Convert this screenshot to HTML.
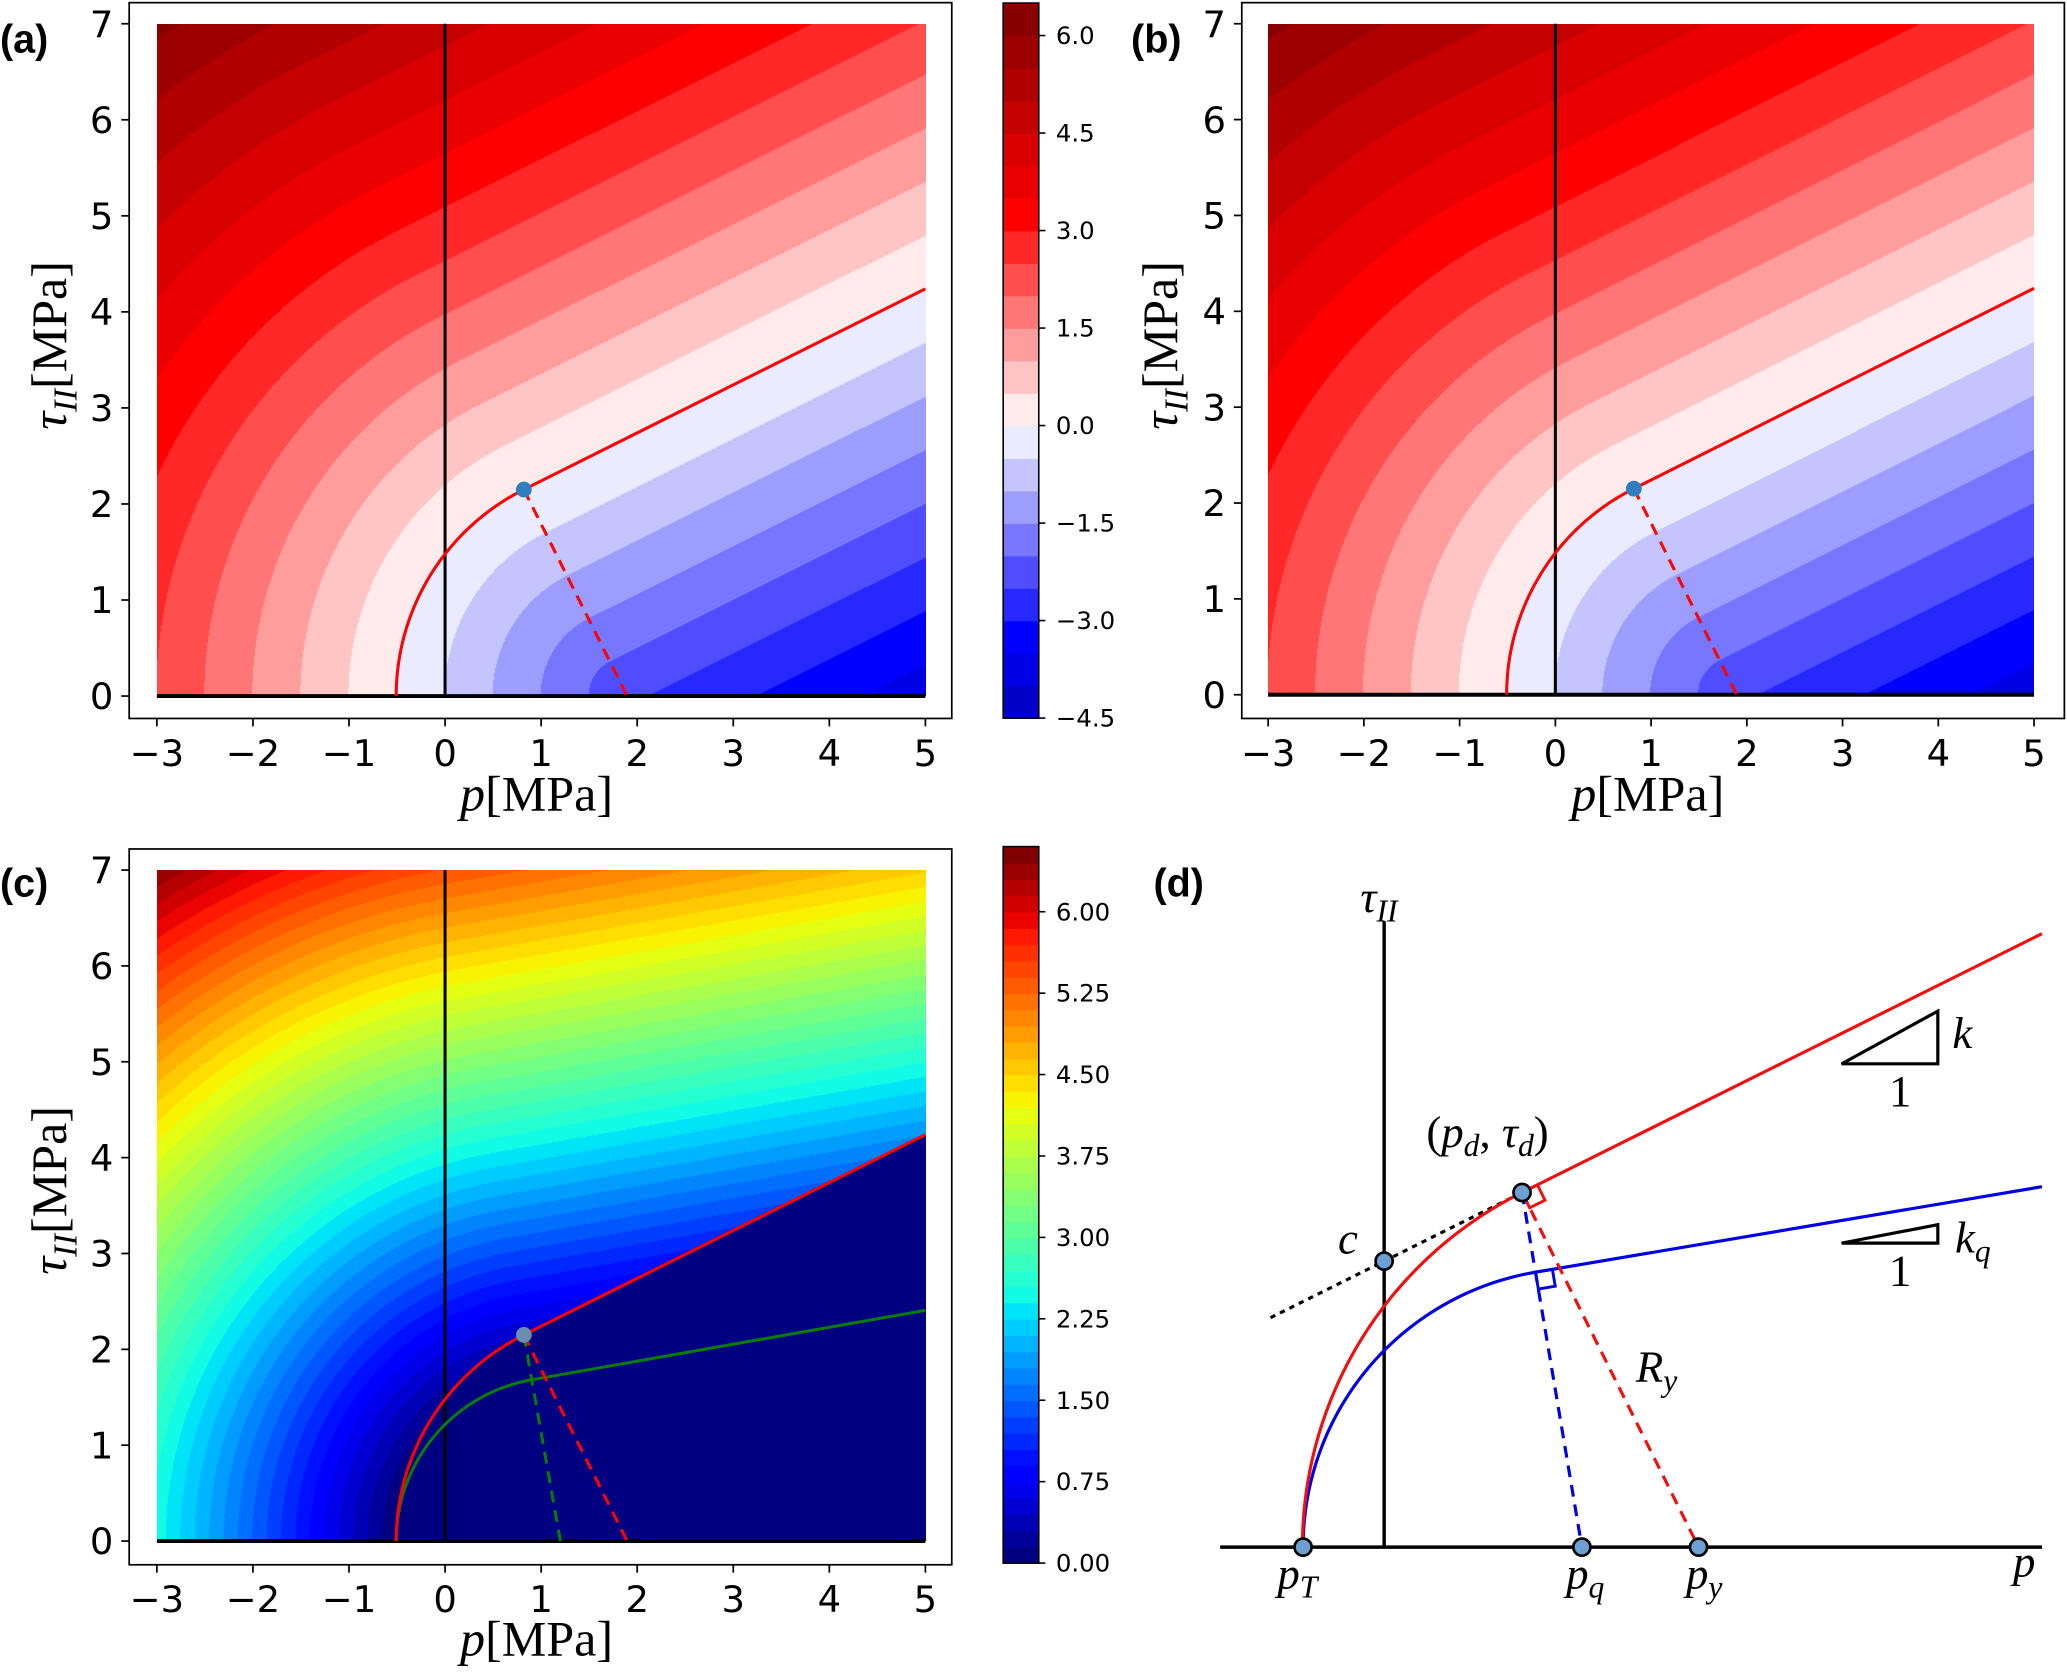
<!DOCTYPE html>
<html>
<head>
<meta charset="utf-8">
<style>
html,body{margin:0;padding:0;background:#fff;}
body{width:2067px;height:1675px;position:relative;overflow:hidden;}
canvas{position:absolute;display:block;}
#fig{position:absolute;left:0;top:0;}
.tk{font-family:"DejaVu Sans","Liberation Sans",sans-serif;}
.mt{font-family:"Liberation Serif","DejaVu Serif",serif;}
.pl{font-family:"Liberation Sans",sans-serif;font-weight:bold;}
</style>
</head>
<body>
<canvas id="fa"></canvas>
<canvas id="fb"></canvas>
<canvas id="fc"></canvas>
<svg id="fig" width="2067" height="1675" viewBox="0 0 1568 1270.6" xmlns="http://www.w3.org/2000/svg">
  <text class="pl" x="0" y="40" font-size="30">(a)</text>
  <text class="pl" x="858" y="40" font-size="30">(b)</text>
  <text class="pl" x="0" y="680" font-size="30">(c)</text>
  <text class="pl" x="875" y="680" font-size="30">(d)</text>

  <text class="mt" transform="translate(50,262) rotate(-90)" text-anchor="middle" font-size="38"><tspan font-style="italic">τ</tspan><tspan font-style="italic" font-size="26" dy="8">II</tspan><tspan dy="-8">[MPa]</tspan></text>
  <text class="mt" transform="translate(893,262) rotate(-90)" text-anchor="middle" font-size="38"><tspan font-style="italic">τ</tspan><tspan font-style="italic" font-size="26" dy="8">II</tspan><tspan dy="-8">[MPa]</tspan></text>
  <text class="mt" transform="translate(50,903) rotate(-90)" text-anchor="middle" font-size="38"><tspan font-style="italic">τ</tspan><tspan font-style="italic" font-size="26" dy="8">II</tspan><tspan dy="-8">[MPa]</tspan></text>
  <text class="mt" x="407" y="615" text-anchor="middle" font-size="38"><tspan font-style="italic">p</tspan>[MPa]</text>
  <text class="mt" x="1250" y="615" text-anchor="middle" font-size="38"><tspan font-style="italic">p</tspan>[MPa]</text>
  <text class="mt" x="407" y="1256" text-anchor="middle" font-size="38"><tspan font-style="italic">p</tspan>[MPa]</text>

  <g id="ga"></g>
  <g id="gb"></g>
  <g id="gc"></g>
  <g id="cba"></g>
  <g id="cbc"></g>
  <g id="gd"></g>

  <g class="mt" font-size="34" font-style="italic">
    <text x="1032" y="692">τ<tspan font-size="24" dy="7">II</tspan></text>
    <text x="1082" y="870"><tspan font-style="normal">(</tspan>p<tspan font-size="24" dy="7">d</tspan><tspan dy="-7" font-style="normal">,  </tspan>τ<tspan font-size="24" dy="7">d</tspan><tspan dy="-7" font-style="normal">)</tspan></text>
    <text x="1015" y="951">c</text>
    <text x="1481" y="795">k</text>
    <text x="1433" y="839" font-style="normal">1</text>
    <text x="1483" y="950">k<tspan font-size="24" dy="7">q</tspan></text>
    <text x="1433" y="975" font-style="normal">1</text>
    <text x="1241" y="1048">R<tspan font-size="24" dy="7">y</tspan></text>
    <text x="969" y="1205">p<tspan font-size="24" dy="7">T</tspan></text>
    <text x="1188" y="1205">p<tspan font-size="24" dy="7">q</tspan></text>
    <text x="1279" y="1205">p<tspan font-size="24" dy="7">y</tspan></text>
    <text x="1527" y="1196">p</text>
  </g>
</svg>
<script>
// ---------- data ----------
const yieldPoint = [0.82, 2.15];      // (p_d, tau_d)
const yieldSlope = [0.5];             // k
const potentialFoot = [1.2];          // p_q
const xTicks = [-3, -2, -1, 0, 1, 2, 3, 4, 5];
const xTickLabels = ["−3", "−2", "−1", "0", "1", "2", "3", "4", "5"];
const yTicks = [0, 1, 2, 3, 4, 5, 6, 7];
const yTickLabels = ["0", "1", "2", "3", "4", "5", "6", "7"];
const cbTicksA = [-4.5, -3.0, -1.5, 0.0, 1.5, 3.0, 4.5, 6.0];
const cbLabelsA = ["−4.5", "−3.0", "−1.5", "0.0", "1.5", "3.0", "4.5", "6.0"];
const levelRangeA = [-4.5, 6.5];
const levelStepA = [0.5];
const cbTicksC = [0, 0.75, 1.5, 2.25, 3.0, 3.75, 4.5, 5.25, 6.0];
const cbLabelsC = ["0.00", "0.75", "1.50", "2.25", "3.00", "3.75", "4.50", "5.25", "6.00"];
const levelRangeC = [0, 6.6];
const levelStepC = [0.15];

// ---------- layout ----------
const S = 2067 / 1568;
const NS = "http://www.w3.org/2000/svg";
const PA = {x0: 119, x1: 702, yb: 528, yt: 18, frame: [98, 2, 722, 545]};
const PB = {x0: 962, x1: 1543, yb: 527, yt: 18, frame: [942, 2, 1566, 545]};
const PC = {x0: 119, x1: 702, yb: 1169, yt: 660, frame: [98, 644, 722, 1187]};
const CBA = {x0: 761, x1: 788, top: 2.3, bot: 544.7};
const CBC = {x0: 761, x1: 788, top: 642.2, bot: 1185.7};

function sx(P, p) { return P.x0 + (p + 3) / 8 * (P.x1 - P.x0); }
function sy(P, t) { return P.yb - t / 7 * (P.yb - P.yt); }
function mk(tag, attrs, parent) {
  const e = document.createElementNS(NS, tag);
  for (const k in attrs) e.setAttribute(k, attrs[k]);
  if (parent) parent.appendChild(e);
  return e;
}

// ---------- geometry ----------
const pd = yieldPoint[0], td = yieldPoint[1], k = yieldSlope[0];
const pc = pd + k * td;
const R = Math.hypot(pc - pd, td);
const pT = pc - R;
const pcq = potentialFoot[0];
const Rq = pcq - pT;
const kq = (pcq - pd) / td;
const nq = Math.sqrt(1 + kq * kq);
const tdq = Rq / nq;
const pdq = pcq - Rq * kq / nq;

function sdist(p, t, c, r, a, b, kk) {
  const dx = p - c, dc = Math.hypot(dx, t);
  const ang = Math.atan2(t, dx), angd = Math.atan2(b, a - c);
  const ln = (t - (b + kk * (p - a))) / Math.sqrt(1 + kk * kk);
  if (ang >= angd) {
    const ar = dc - r;
    if (ar >= 0) return ar;
    return Math.max(ar, ln);
  }
  return ln;
}

// ---------- colormaps ----------
function interp(stops, x) {
  x = Math.max(0, Math.min(1, x));
  for (let i = 1; i < stops.length; i++) {
    if (x <= stops[i][0]) {
      const a = stops[i - 1], b = stops[i];
      const f = (x - a[0]) / (b[0] - a[0] || 1);
      return a[1] + f * (b[1] - a[1]);
    }
  }
  return stops[stops.length - 1][1];
}
const seisStops = [[0, [0, 0, 0.3]], [0.25, [0, 0, 1]], [0.5, [1, 1, 1]], [0.75, [1, 0, 0]], [1, [0.5, 0, 0]]];
function seismic(x) {
  const out = [];
  for (let c = 0; c < 3; c++) out.push(interp(seisStops.map(s => [s[0], s[1][c]]), x));
  return out.map(v => Math.round(v * 255));
}
const jR = [[0, 0], [0.35, 0], [0.66, 1], [0.89, 1], [1, 0.5]];
const jG = [[0, 0], [0.125, 0], [0.375, 1], [0.64, 1], [0.91, 0], [1, 0]];
const jB = [[0, 0.5], [0.11, 1], [0.34, 1], [0.65, 0], [1, 0]];
function jet(x) { return [interp(jR, x), interp(jG, x), interp(jB, x)].map(v => Math.round(v * 255)); }

function colorA(v) {
  const n = Math.round((levelRangeA[1] - levelRangeA[0]) / levelStepA[0]);
  let i = Math.floor((v - levelRangeA[0]) / levelStepA[0]);
  i = Math.max(0, Math.min(n - 1, i));
  const mid = levelRangeA[0] + (i + 0.5) * levelStepA[0];
  return seismic((mid + 6.5) / 13);
}
function colorC(v) {
  const n = Math.round((levelRangeC[1] - levelRangeC[0]) / levelStepC[0]);
  let i = Math.floor((v - levelRangeC[0]) / levelStepC[0]);
  i = Math.max(0, Math.min(n - 1, i));
  return jet(i / (n - 1));
}
function rgb(c) { return "rgb(" + c[0] + "," + c[1] + "," + c[2] + ")"; }

// ---------- fields ----------
function drawField(id, P, fn) {
  const cv = document.getElementById(id);
  const L = P.x0 * S, T = P.yt * S;
  const W = Math.round((P.x1 - P.x0) * S), H = Math.round((P.yb - P.yt) * S);
  cv.width = W; cv.height = H;
  cv.style.left = L + "px"; cv.style.top = T + "px";
  cv.style.width = W + "px"; cv.style.height = H + "px";
  const ctx = cv.getContext("2d");
  const img = ctx.createImageData(W, H);
  for (let j = 0; j < H; j++) {
    const t = 7 - (j + 0.5) / H * 7;
    for (let i = 0; i < W; i++) {
      const p = -3 + (i + 0.5) / W * 8;
      const c = fn(p, t);
      const o = (j * W + i) * 4;
      img.data[o] = c[0]; img.data[o + 1] = c[1]; img.data[o + 2] = c[2]; img.data[o + 3] = 255;
    }
  }
  ctx.putImageData(img, 0, 0);
}
const fieldAB = (p, t) => colorA(sdist(p, t, pc, R, pd, td, k));
const fieldC = (p, t) => {
  const f = sdist(p, t, pc, R, pd, td, k);
  if (f <= 0) return colorC(0);
  return colorC(Math.max(0, sdist(p, t, pcq, Rq, pdq, tdq, kq)));
};
drawField("fa", PA, fieldAB);
drawField("fb", PB, fieldAB);
drawField("fc", PC, fieldC);

// ---------- surfaces ----------
function surfacePts(c, r, a, b, kk) {
  const pts = [];
  const angd = Math.atan2(b, a - c);
  for (let i = 0; i <= 80; i++) {
    const an = Math.PI + (angd - Math.PI) * i / 80;
    pts.push([c + r * Math.cos(an), r * Math.sin(an)]);
  }
  pts.push([5, b + kk * (5 - a)]);
  return pts;
}
const redPts = surfacePts(pc, R, pd, td, k);
const greenPts = surfacePts(pcq, Rq, pdq, tdq, kq);

function panel(gid, P, showGreen, dotFill) {
  const g = document.getElementById(gid);
  const f = P.frame;
  const fr = mk("rect", {x: f[0], y: f[1], width: f[2] - f[0], height: f[3] - f[1], fill: "none", stroke: "#000", "stroke-width": 1.3}, g);
  
  
  xTicks.forEach((v, i) => {
    const x = sx(P, v);
    const tk = mk("line", {x1: x, x2: x, y1: f[3], y2: f[3] + 6, stroke: "#000", "stroke-width": 1.3}, g);
    
    
    const tl = mk("text", {x: x, y: f[3] + 36, "text-anchor": "middle", "font-size": 28, class: "tk", fill: "#000"}, g);
    tl.textContent = xTickLabels[i];
    
    
  });
  yTicks.forEach((v, i) => {
    const y = sy(P, v);
    const tk = mk("line", {x1: f[0] - 6, x2: f[0], y1: y, y2: y, stroke: "#000", "stroke-width": 1.3}, g);
    
    
    const tl = mk("text", {x: f[0] - 12, y: y + 10, "text-anchor": "end", "font-size": 28, class: "tk", fill: "#000"}, g);
    tl.textContent = yTickLabels[i];
    
    
  });
  const va = mk("line", {x1: sx(P, 0), x2: sx(P, 0), y1: sy(P, 0), y2: sy(P, 7), stroke: "#000", "stroke-width": 2.3}, g);
  
  
  const ha = mk("line", {x1: sx(P, -3), x2: sx(P, 5), y1: sy(P, 0), y2: sy(P, 0), stroke: "#000", "stroke-width": 3}, g);
  
  
  if (showGreen) {
    const gp = mk("polyline", {points: greenPts.map(q => sx(P, q[0]) + "," + sy(P, q[1])).join(" "), fill: "none", stroke: "#0a7a0a", "stroke-width": 2.3}, g);
    
    
    const gd = mk("line", {x1: sx(P, pd), y1: sy(P, td), x2: sx(P, pcq), y2: sy(P, 0), stroke: "#0a7a0a", "stroke-width": 2.3, "stroke-dasharray": "9,6"}, g);
    
    
  }
  const rp = mk("polyline", {points: redPts.map(q => sx(P, q[0]) + "," + sy(P, q[1])).join(" "), fill: "none", stroke: "#ff0000", "stroke-width": 2.3}, g);
  
  
  const rd = mk("line", {x1: sx(P, pd), y1: sy(P, td), x2: sx(P, pc), y2: sy(P, 0), stroke: "#ff0000", "stroke-width": 2.3, "stroke-dasharray": "9,6"}, g);
  
  
  const dt = mk("circle", {cx: sx(P, pd), cy: sy(P, td), r: 6, fill: dotFill}, g);
  
  
}
panel("ga", PA, false, "#2f7fbf");
panel("gb", PB, false, "#2f7fbf");
panel("gc", PC, true, "#6a8db0");

// ---------- colorbars ----------
function colorbar(gid, C, range, step, colorFn, ticks, labels) {
  const g = document.getElementById(gid);
  const n = Math.round((range[1] - range[0]) / step);
  const Y = v => C.bot - (v - range[0]) / (range[1] - range[0]) * (C.bot - C.top);
  for (let i = 0; i < n; i++) {
    const v0 = range[0] + i * step, v1 = v0 + step;
    const r = mk("rect", {x: C.x0, y: Y(v1), width: C.x1 - C.x0, height: Y(v0) - Y(v1) + 0.6, fill: rgb(colorFn(v0 + step / 2))}, g);
    
    
  }
  const fr = mk("rect", {x: C.x0, y: C.top, width: C.x1 - C.x0, height: C.bot - C.top, fill: "none", stroke: "#000", "stroke-width": 1.2}, g);
  
  
  ticks.forEach((v, i) => {
    const y = Y(v);
    const tk = mk("line", {x1: C.x1, x2: C.x1 + 5, y1: y, y2: y, stroke: "#000", "stroke-width": 1.2}, g);
    
    
    const tl = mk("text", {x: C.x1 + 13, y: y + 6.5, "font-size": 18.5, class: "tk", fill: "#000"}, g);
    tl.textContent = labels[i];
    
    
  });
}
colorbar("cba", CBA, levelRangeA, levelStepA[0], colorA, cbTicksA, cbLabelsA);
colorbar("cbc", CBC, levelRangeC, levelStepC[0], colorC, cbTicksC, cbLabelsC);

// ---------- schematic (d) ----------
const dAxis = [925.6, 1549, 1173.6];       // p-axis x-start, x-end, y
const dTauAxis = [1050, 698.7];            // tau-axis x, top y
const dFeet = [988.5, 1200, 1288.5];       // p_T, p_q, p_y
const dCorner = [1154.6, 904.6];           // (p_d, tau_d)
const dEndX = [1549];
(function () {
  const g = document.getElementById("gd");
  const ay = dAxis[2];
  const pTd = dFeet[0], pqd = dFeet[1], pyd = dFeet[2];
  const Rd = Math.hypot(dCorner[0] - pyd, dCorner[1] - ay);
  const Rqd = pqd - pTd;
  const ux = (dCorner[0] - pyd) / Rd, uy = (dCorner[1] - ay) / Rd;
  const angS = Math.atan2(dCorner[1] - ay, dCorner[0] - pyd);
  let pts = [];
  for (let i = 0; i <= 80; i++) {
    const an = -Math.PI + (angS + Math.PI) * i / 80;
    pts.push([pyd + Rd * Math.cos(an), ay + Rd * Math.sin(an)]);
  }
  const tx = -uy, ty = ux;
  const tEnd = (dEndX[0] - dCorner[0]) / tx;
  pts.push([dEndX[0], dCorner[1] + ty * tEnd]);
  const qdx = dCorner[0] - pqd, qdy = dCorner[1] - ay, ql = Math.hypot(qdx, qdy);
  const bx = pqd + Rqd * qdx / ql, by = ay + Rqd * qdy / ql;
  const angQ = Math.atan2(qdy, qdx);
  let bpts = [];
  for (let i = 0; i <= 80; i++) {
    const an = -Math.PI + (angQ + Math.PI) * i / 80;
    bpts.push([pqd + Rqd * Math.cos(an), ay + Rqd * Math.sin(an)]);
  }
  const btx = -qdy / ql, bty = qdx / ql;
  const bEnd = (dEndX[0] - bx) / btx;
  bpts.push([dEndX[0], by + bty * bEnd]);

  const hx = mk("line", {x1: dAxis[0], x2: dAxis[1], y1: ay, y2: ay, stroke: "#000", "stroke-width": 2.6}, g);
  
  
  const vx = mk("line", {x1: dTauAxis[0], x2: dTauAxis[0], y1: dTauAxis[1], y2: ay, stroke: "#000", "stroke-width": 2.6}, g);
  
  

  const dotX = 963.8;
  const dl = mk("line", {x1: dotX, y1: dCorner[1] + ty * ((dotX - dCorner[0]) / tx), x2: dCorner[0], y2: dCorner[1], stroke: "#000", "stroke-width": 2.4, "stroke-dasharray": "4,4"}, g);
  
  

  const bl = mk("polyline", {points: bpts.map(q => q.join(",")).join(" "), fill: "none", stroke: "#0000e0", "stroke-width": 2.4}, g);
  
  
  const rl = mk("polyline", {points: pts.map(q => q.join(",")).join(" "), fill: "none", stroke: "#ee1111", "stroke-width": 2.4}, g);
  
  

  const bd = mk("line", {x1: dCorner[0], y1: dCorner[1], x2: pqd, y2: ay, stroke: "#0000e0", "stroke-width": 2.4, "stroke-dasharray": "9,6"}, g);
  
  
  const rd = mk("line", {x1: dCorner[0], y1: dCorner[1], x2: pyd, y2: ay, stroke: "#ee1111", "stroke-width": 2.4, "stroke-dasharray": "9,6"}, g);
  
  

  const s = 13;
  const nx = -ux, ny = -uy;
  const rsq = mk("polygon", {points: [[dCorner[0], dCorner[1]], [dCorner[0] + s * tx, dCorner[1] + s * ty], [dCorner[0] + s * tx + s * nx, dCorner[1] + s * ty + s * ny], [dCorner[0] + s * nx, dCorner[1] + s * ny]].map(q => q.join(",")).join(" "), fill: "none", stroke: "#ee1111", "stroke-width": 2.2}, g);
  
  
  const bnx = -qdx / ql, bny = -qdy / ql;
  const bsq = mk("polygon", {points: [[bx, by], [bx + s * btx, by + s * bty], [bx + s * btx + s * bnx, by + s * bty + s * bny], [bx + s * bnx, by + s * bny]].map(q => q.join(",")).join(" "), fill: "none", stroke: "#0000e0", "stroke-width": 2.2}, g);
  
  

  const t1 = mk("polygon", {points: "1397,807 1470,807 1470,767", fill: "none", stroke: "#000", "stroke-width": 2.4}, g);
  
  
  const t2 = mk("polygon", {points: "1397,943 1470,943 1470,929", fill: "none", stroke: "#000", "stroke-width": 2.4}, g);
  
  

  const cY = dCorner[1] + ty * ((dTauAxis[0] - dCorner[0]) / tx);
  const dots = [[pTd, ay], [pqd, ay], [pyd, ay], [dCorner[0], dCorner[1]], [dTauAxis[0], cY]];
  dots.forEach(q => {
    const c = mk("circle", {cx: q[0], cy: q[1], r: 6.5, fill: "#6e9fd3", stroke: "#000", "stroke-width": 2}, g);
    
    
  });
})();
</script>
</body>
</html>
